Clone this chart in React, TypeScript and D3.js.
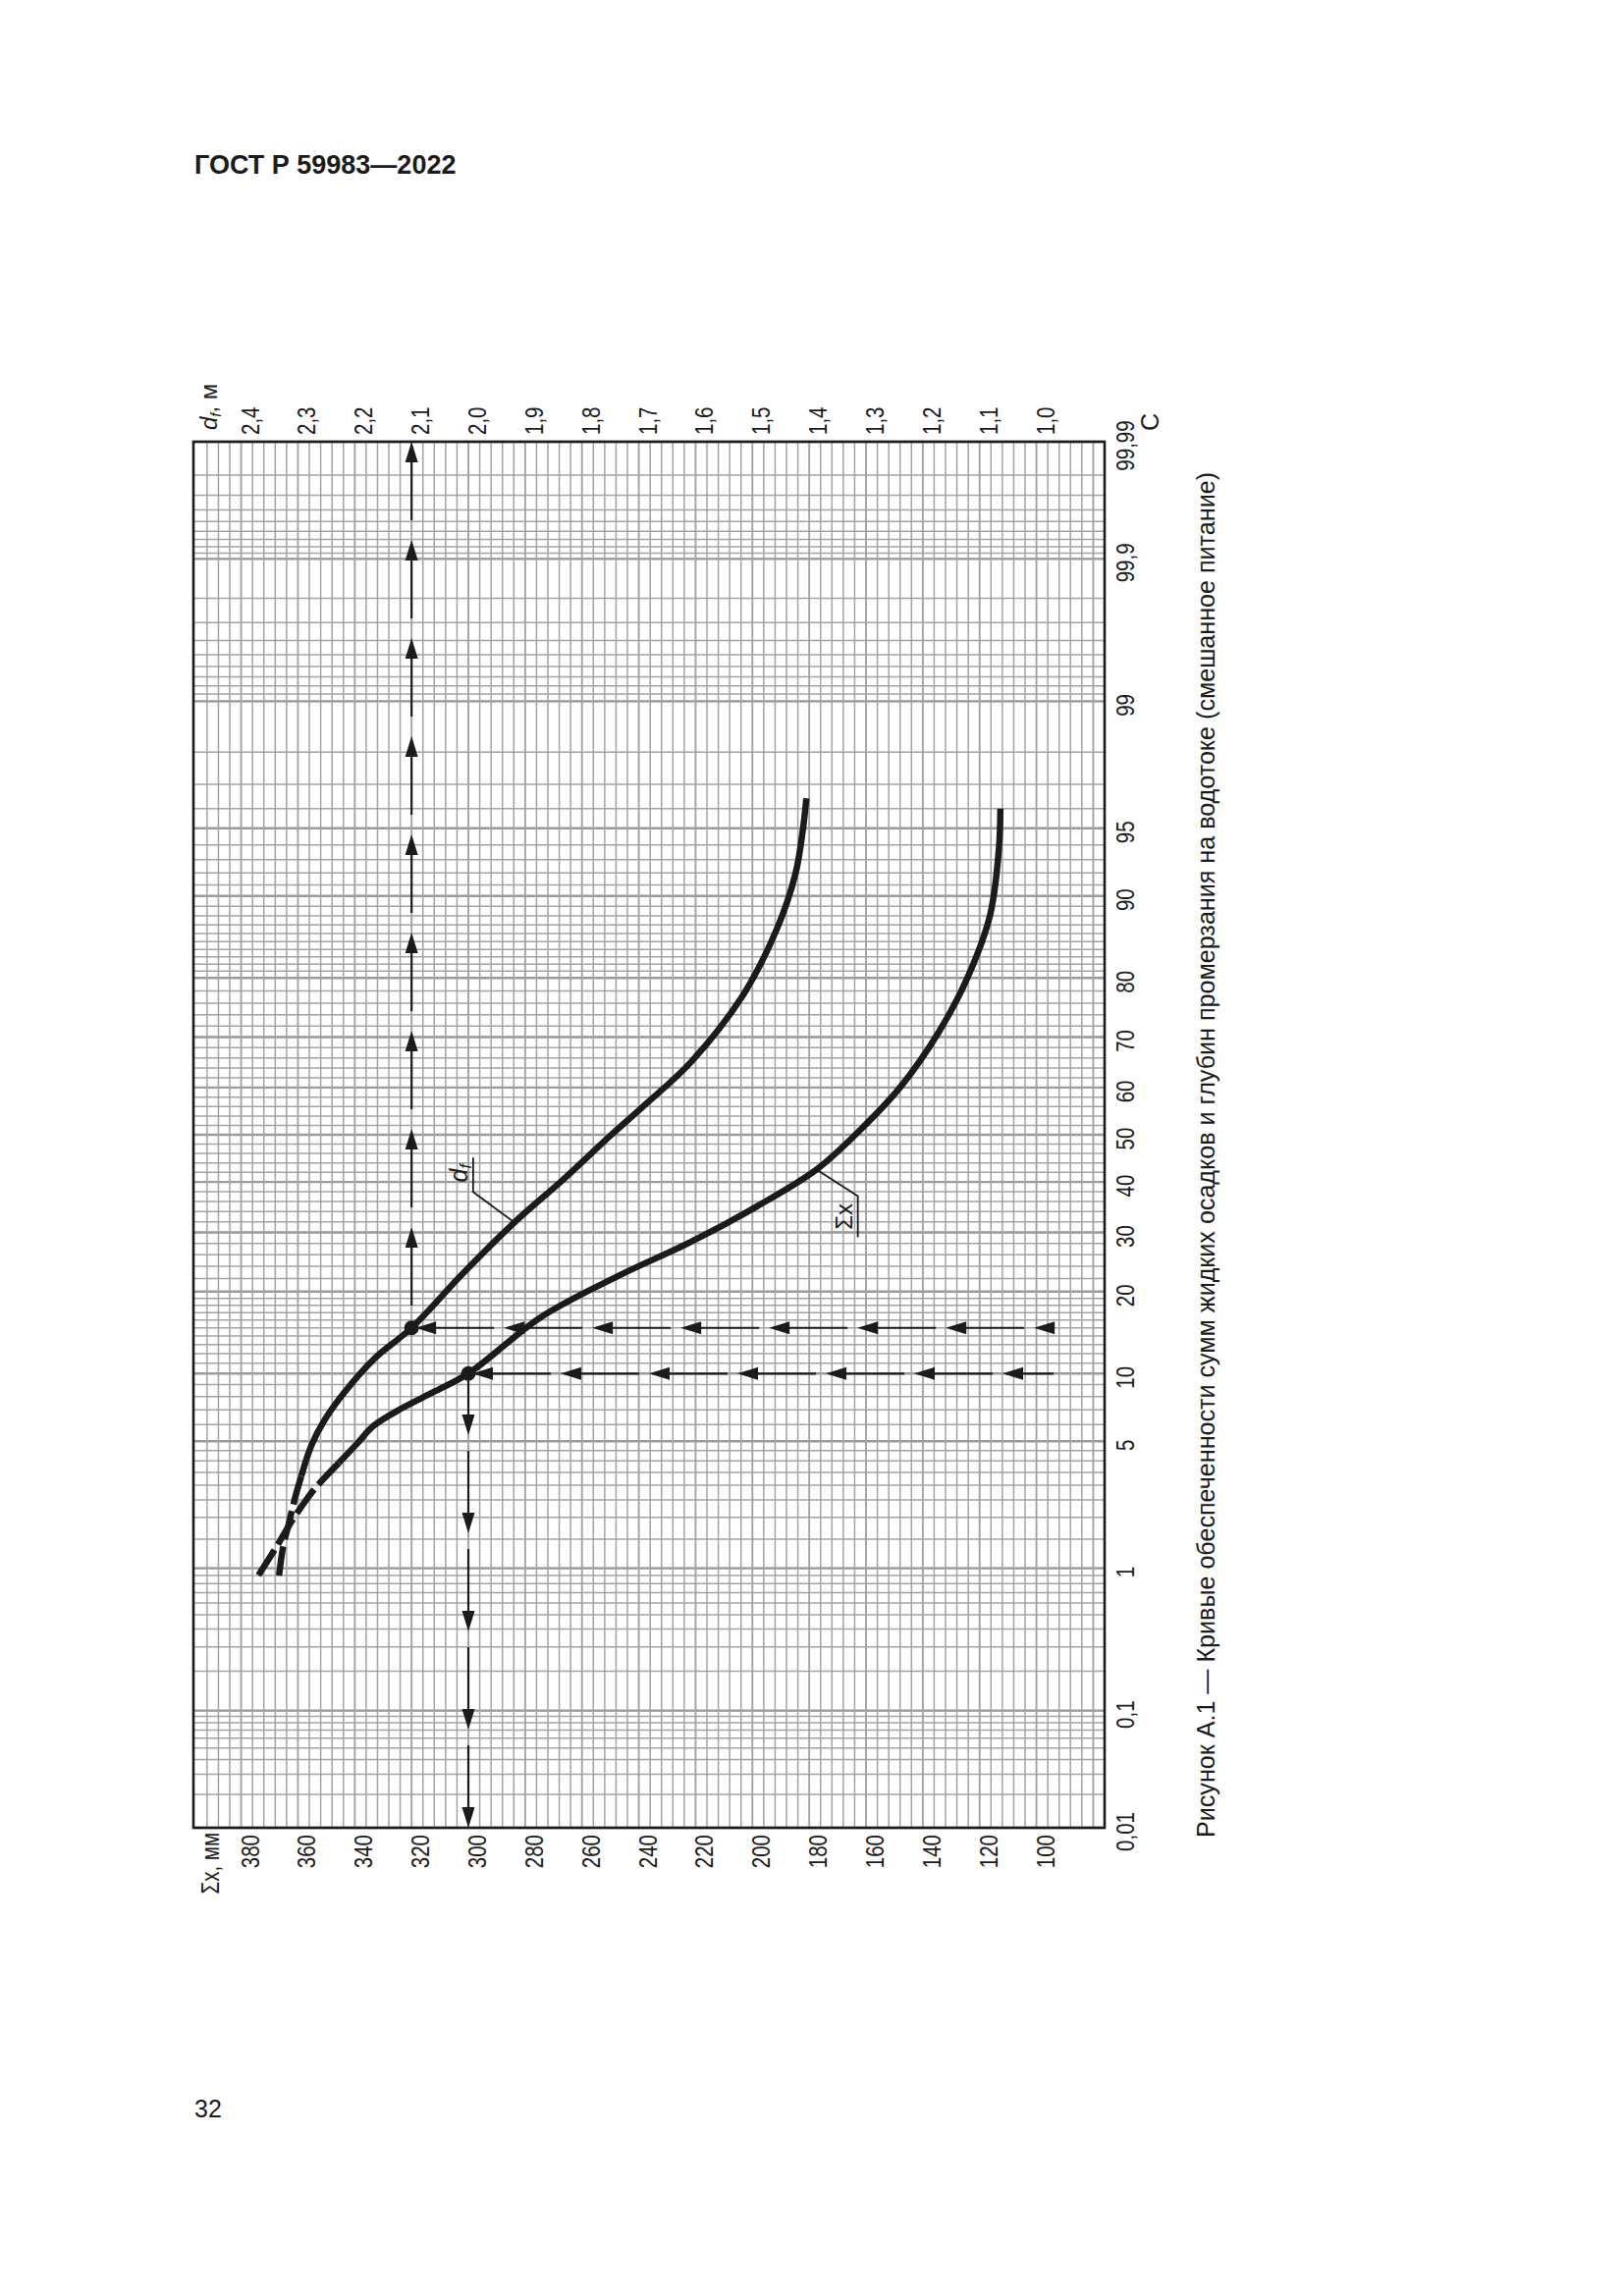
import * as d3 from "d3";

// probability axis (C, %)
const P_TICKS = [0.01, 0.1, 1, 5, 10, 20, 30, 40, 50, 60, 70, 80, 90, 95, 99, 99.9, 99.99];
// Σx, mm (bottom axis)
const SX_TICKS = [380, 360, 340, 320, 300, 280, 260, 240, 220, 200, 180, 160, 140, 120, 100];
// d_f, m (top axis)
const DF_TICKS = [2.4, 2.3, 2.2, 2.1, 2.0, 1.9, 1.8, 1.7, 1.6, 1.5, 1.4, 1.3, 1.2, 1.1, 1.0];

// the two value axes share the paper: 0.1 m of d_f == 20 mm of Σx
const SX_DOMAIN = [396.8, 76];
const DF_DOMAIN = [2.484, 0.88];

// Σx curve, [P %, mm]
const SX_SOLID = [
  [96.0, 112.7], [93.8, 113.2], [88.1, 116.3], [80.2, 124.1], [70.9, 134.4],
  [60.1, 147.9], [51.1, 161.9], [42.6, 177.4], [35.1, 198.2], [28.3, 221.5],
  [22.5, 246.9], [16.4, 274.4], [10, 300], [8.4, 312], [7.1, 323.5],
  [5.9, 333.5], [4.9, 339], [3.91, 345.6],
];
const SX_DASHED = [[3.91, 345.6], [2.86, 354.2], [1.97, 361.6], [1.33, 367.8], [0.88, 374.3]];

// d_f curve, [P %, m]
const DF_SOLID = [
  [96.45, 1.405], [94.95, 1.411], [91.97, 1.424], [86.5, 1.457], [77.25, 1.517],
  [65.2, 1.608], [56.7, 1.686], [49.8, 1.75], [40.5, 1.833], [31.9, 1.919],
  [22.8, 2.01], [15, 2.1], [11.5, 2.165], [8.3, 2.219], [6.3, 2.253],
  [4.8, 2.276], [3.35, 2.294],
];
const DF_DASHED = [[3.35, 2.294], [2.58, 2.305], [1.85, 2.316], [1.36, 2.326], [0.86, 2.334]];

// read-off points and label anchors
const DF_READ = { p: 15, v: 2.1 };
const SX_READ = { p: 10, v: 300 };
const ARROW_START_SX = 94;
const DF_NOTE = { p: 31.9, v: 1.919 };
const SX_NOTE = { p: 42.6, v: 177.4 };

const TITLE = "ГОСТ Р 59983—2022";
const CAPTION =
  "Рисунок А.1 — Кривые обеспеченности сумм жидких осадков и глубин промерзания на водотоке (смешанное питание)";
const PAGE = "32";

const W = 1654;
const H = 2339;
const X0 = 197, X1 = 1125, Y0 = 450, Y1 = 1862;
const FONT = "'Liberation Sans', Arial, Helvetica, sans-serif";
const INK = "#1b1b1b";
const NARROW = "scale(0.82,1)";
const TICK_FS = 25;

// inverse normal CDF (Acklam)
function probit(p: number) {
  const a = [-39.69683028665376, 220.9460984245205, -275.9285104469687, 138.357751867269, -30.66479806614716, 2.506628277459239];
  const b = [-54.47609879822406, 161.5858368580409, -155.6989798598866, 66.80131188771972, -13.28068155288572];
  const c = [-0.007784894002430293, -0.3223964580411365, -2.400758277161838, -2.549732539343734, 4.374664141464968, 2.938163982698783];
  const d = [0.007784695709041462, 0.3224671290700398, 2.445134137142996, 3.754408661907416];
  const pl = 0.02425;
  if (p < pl) {
    const q = Math.sqrt(-2 * Math.log(p));
    return (((((c[0] * q + c[1]) * q + c[2]) * q + c[3]) * q + c[4]) * q + c[5]) /
      ((((d[0] * q + d[1]) * q + d[2]) * q + d[3]) * q + 1);
  }
  if (p > 1 - pl) {
    const q = Math.sqrt(-2 * Math.log(1 - p));
    return -(((((c[0] * q + c[1]) * q + c[2]) * q + c[3]) * q + c[4]) * q + c[5]) /
      ((((d[0] * q + d[1]) * q + d[2]) * q + d[3]) * q + 1);
  }
  const q = p - 0.5;
  const r = q * q;
  return ((((((a[0] * r + a[1]) * r + a[2]) * r + a[3]) * r + a[4]) * r + a[5]) * q) /
    (((((b[0] * r + b[1]) * r + b[2]) * r + b[3]) * r + b[4]) * r + 1);
}

const sx = d3.scaleLinear().domain(SX_DOMAIN).range([X0, X1]);
const dfx = d3.scaleLinear().domain(DF_DOMAIN).range([X0, X1]);
const zScale = d3.scaleLinear().domain([probit(0.0001), probit(0.9999)]).range([Y1, Y0]);
const py = (p: number) => zScale(probit(p / 100));

const fmtComma = (v: number) => String(v).replace(".", ",");

// probability-paper rulings
const P_GRID = [
  ...d3.range(1, 10).map((i) => i * 0.01),
  ...d3.range(1, 10).map((i) => i * 0.1),
  ...d3.range(2, 10).map((i) => i * 0.5),
  ...d3.range(5, 10),
  ...d3.range(10, 20),
  ...d3.range(20, 80, 2),
  ...d3.range(80, 99),
  ...d3.range(0, 10).map((i) => 99 + i * 0.1),
  ...d3.range(1, 10).map((i) => 99.9 + i * 0.01),
];
const SX_GRID = d3.range(80, 397, 4);

const HEAD_LEN = 21;
const HEAD_W = 6.5;

type Pt = [number, number];
function arrowMarks(from: Pt, to: Pt, period: number, gap: number, offset: number) {
  const dx = to[0] - from[0];
  const dy = to[1] - from[1];
  const len = Math.hypot(dx, dy);
  const ux = dx / len, uy = dy / len;
  const at = (s: number): Pt => [to[0] - ux * s, to[1] - uy * s];
  const nx = -uy, ny = ux;
  const out: { line: Pt[]; head: Pt[] }[] = [];
  for (let s = offset; s < len - 4; s += period) {
    const e = Math.min(s + period - gap, len);
    const tip = at(s);
    const base = at(s + HEAD_LEN);
    out.push({
      line: [at(s + 4), at(e)],
      head: [tip, [base[0] + nx * HEAD_W, base[1] + ny * HEAD_W], [base[0] - nx * HEAD_W, base[1] - ny * HEAD_W]],
    });
  }
  return out;
}

export default function App() {
  const sxLine = d3
    .line<number[]>()
    .x((d) => sx(d[1]))
    .y((d) => py(d[0]))
    .curve(d3.curveCatmullRom.alpha(0.5));
  const dfLine = d3
    .line<number[]>()
    .x((d) => dfx(d[1]))
    .y((d) => py(d[0]))
    .curve(d3.curveCatmullRom.alpha(0.5));

  const dfDot: Pt = [dfx(DF_READ.v), py(DF_READ.p)];
  const sxDot: Pt = [sx(SX_READ.v), py(SX_READ.p)];
  const arrows = [
    ...arrowMarks(dfDot, [dfDot[0], Y0], 100, 20, 0),
    ...arrowMarks([sx(ARROW_START_SX), dfDot[1]], dfDot, 90, 10, 4),
    ...arrowMarks([sx(ARROW_START_SX), sxDot[1]], sxDot, 90, 10, 4),
    ...arrowMarks(sxDot, [sxDot[0], Y1], 100, 16, 0),
  ];

  const dfA: Pt = [dfx(DF_NOTE.v), py(DF_NOTE.p)];
  const sxA: Pt = [sx(SX_NOTE.v), py(SX_NOTE.p)];

  return (
    <svg
      width={W}
      height={H}
      viewBox={`0 0 ${W} ${H}`}
      style={{ position: "absolute", left: 0, top: 0, background: "#fff" }}
      fontFamily={FONT}
    >
      <rect width={W} height={H} fill="#fff" />
      <text x={198} y={177} fontSize={27} fontWeight="bold" fill={INK}>
        {TITLE}
      </text>

      {/* grid */}
      <g stroke="#a3a3a3" fill="none">
        {P_GRID.map((p) => (
          <line key={"p" + p} x1={X0} x2={X1} y1={py(p)} y2={py(p)} strokeWidth={1.5} />
        ))}
        {P_TICKS.map((p) => (
          <line key={"pt" + p} x1={X0} x2={X1} y1={py(p)} y2={py(p)} strokeWidth={2.4} stroke="#9a9a9a" />
        ))}
        {SX_GRID.filter((v) => sx(v) > X0 + 3 && sx(v) < X1 - 3).map((v) => (
          <line key={"s" + v} x1={sx(v)} x2={sx(v)} y1={Y0} y2={Y1} strokeWidth={v % 20 === 0 ? 1.9 : 1.5} />
        ))}
      </g>
      <rect x={X0} y={Y0} width={X1 - X0} height={Y1 - Y0} fill="none" stroke={INK} strokeWidth={2.6} />

      {/* read-off arrows */}
      <g>
        {arrows.map((a, i) => (
          <g key={i}>
            <line x1={a.line[0][0]} y1={a.line[0][1]} x2={a.line[1][0]} y2={a.line[1][1]} stroke={INK} strokeWidth={2.2} />
            <polygon points={a.head.map((p) => p.join(",")).join(" ")} fill={INK} />
          </g>
        ))}
      </g>

      {/* curves */}
      <g fill="none" stroke={INK} strokeWidth={6.5}>
        <path d={sxLine(SX_SOLID) ?? ""} />
        <path d={sxLine(SX_DASHED) ?? ""} strokeDasharray="30 7" />
        <path d={dfLine(DF_SOLID) ?? ""} />
        <path d={dfLine(DF_DASHED) ?? ""} strokeDasharray="30 7" />
      </g>
      <circle cx={dfDot[0]} cy={dfDot[1]} r={7.5} fill={INK} />
      <circle cx={sxDot[0]} cy={sxDot[1]} r={7.5} fill={INK} />

      {/* curve labels */}
      <g stroke={INK} strokeWidth={1.8} fill="none">
        <polyline points={`${dfA[0]},${dfA[1]} ${dfA[0] - 42},${dfA[1] - 31} ${dfA[0] - 42},${dfA[1] - 66}`} />
        <polyline points={`${sxA[0]},${sxA[1]} ${sxA[0] + 42},${sxA[1] + 27} ${sxA[0] + 42},${sxA[1] + 69}`} />
      </g>
      <text transform={`translate(${dfA[0] - 48},${dfA[1] - 50}) rotate(-90)`} textAnchor="middle" fontSize={25} fill={INK}>
        <tspan fontStyle="italic">d</tspan>
        <tspan fontStyle="italic" fontSize={16} dy={4}>f</tspan>
      </text>
      <text transform={`translate(${sxA[0] + 36},${sxA[1] + 48}) rotate(-90)`} textAnchor="middle" fontSize={24} fill={INK}>
        Σx
      </text>

      {/* top axis: d_f */}
      {DF_TICKS.map((v) => (
        <text key={"df" + v} transform={`translate(${dfx(v) + 18},${Y0 - 7}) rotate(-90) ${NARROW}`} fontSize={TICK_FS} fill={INK}>
          {v.toFixed(1).replace(".", ",")}
        </text>
      ))}
      <text transform={`translate(221,${Y0 - 12}) rotate(-90)`} fontSize={24} fill={INK}>
        <tspan fontStyle="italic">d</tspan>
        <tspan fontStyle="italic" fontSize={15} dy={4}>f</tspan>
        <tspan dy={-4}>, м</tspan>
      </text>

      {/* bottom axis: Σx */}
      {SX_TICKS.map((v) => (
        <text key={"sx" + v} transform={`translate(${sx(v) + 18},${Y1 + 7}) rotate(-90) ${NARROW}`} textAnchor="end" fontSize={TICK_FS} fill={INK}>
          {v}
        </text>
      ))}
      <text transform={`translate(223,${Y1 + 5}) rotate(-90) ${NARROW}`} textAnchor="end" fontSize={TICK_FS} fill={INK}>
        Σx, мм
      </text>

      {/* right axis: C */}
      {P_TICKS.map((p) => (
        <text key={"pl" + p} transform={`translate(1155,${py(p) + 4}) rotate(-90) ${NARROW}`} textAnchor="middle" fontSize={TICK_FS} fill={INK}>
          {fmtComma(p)}
        </text>
      ))}
      <text transform={`translate(1180,430) rotate(-90)`} textAnchor="middle" fontSize={25} fill={INK}>
        C
      </text>

      {/* caption */}
      <text
        transform={`translate(1237,1872) rotate(-90)`}
        fontSize={25}
        fill={INK}
        textLength={1391}
        lengthAdjust="spacingAndGlyphs"
      >
        {CAPTION}
      </text>

      <text x={198} y={2157} fontSize={25} fill={INK}>
        {PAGE}
      </text>
    </svg>
  );
}
